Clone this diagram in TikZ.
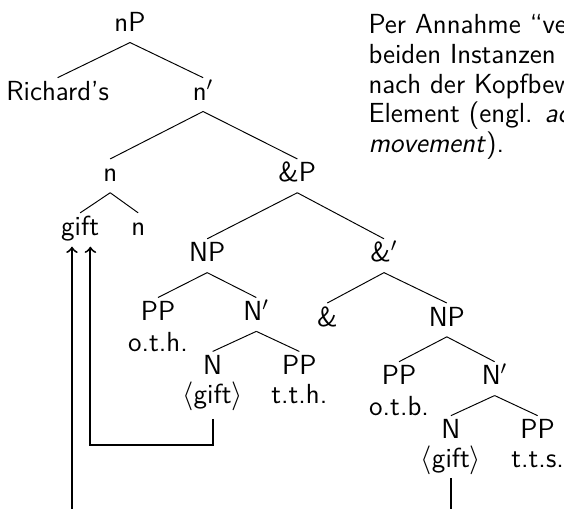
\documentclass[tikz,border=0pt]{standalone}
\usepackage{tikz}
\usetikzlibrary{positioning, arrows}
\renewcommand{\familydefault}{\sfdefault}
\tikzstyle{tn} = [inner xsep=3pt, inner ysep=1.4pt, text height=8pt, text depth=2.9pt]
\tikzstyle{note} = [anchor=north west, align=left, inner sep=0pt]
\tikzstyle{edge} = [thin]
\tikzstyle{arrow} = [thick,->]

\begin{document}
\begin{tikzpicture}[on grid, font=\fontsize{11.5}{12.4}\selectfont]
\useasboundingbox (-1.904,0.375) rectangle (6.356,-7.065);
\clip (-1.904,0.375) rectangle (6.356,-7.065);
% upper part
\node (np) [tn] {nP};
\node (rich) [tn, below left=1.01cm and 1.06cm of np] {Richard’s};
\node (nbar) [tn, below right=1.01cm and 1.07cm of np] {n$'$};
\node (n) [tn, below left=1.19cm and 1.36cm of nbar] {n};
\node (andp) [tn, below right=1.19cm and 1.38cm of nbar] {\&P};
\node (gift) [tn, below left=0.79cm and 0.44cm of n] {gift};
\node (nhead) [tn, below right=0.79cm and 0.41cm of n] {n};
% first conjunct
\node (np1) [tn, below left=1.17cm and 1.32cm of andp] {NP};
\node (pp1) [tn, below left=0.86cm and 0.72cm of np1] {PP};
\node (oth) [tn, below=0.45cm of pp1] {o.t.h.};
\node (nbar1) [tn, below right=0.86cm and 0.72cm of np1] {N$'$};
\node (n1) [tn, below left=0.79cm and 0.64cm of nbar1] {N};
\node (gift1) [tn, below=0.42cm of n1] {$\langle$gift$\rangle$};
\node (pp2) [tn, below right=0.79cm and 0.63cm of nbar1] {PP};
\node (tth) [tn, below=0.42cm of pp2] {t.t.h.};
% second conjunct
\node (andbar) [tn, below right=1.17cm and 1.27cm of andp] {\&$'$};
\node (and) [tn, below left=0.94cm and 0.83cm of andbar] {\&};
\node (np2) [tn, below right=0.94cm and 0.92cm of andbar] {NP};
\node (pp3) [tn, below left=0.86cm and 0.70cm of np2] {PP};
\node (otb) [tn, below=0.45cm of pp3] {o.t.b.};
\node (nbar2) [tn, below right=0.86cm and 0.70cm of np2] {N$'$};
\node (n2) [tn, below left=0.79cm and 0.64cm of nbar2] {N};
\node (gift2) [tn, below=0.42cm of n2] {$\langle$gift$\rangle$};
\node (pp4) [tn, below right=0.79cm and 0.63cm of nbar2] {PP};
\node (tts) [tn, below=0.42cm of pp4] {t.t.s.};
% explanation
\node (txt) [note] at (3.486,0.17) {Per Annahme “verschmelzen” die\\
beiden Instanzen von \emph{gift}\\
nach der Kopfbewegung zu einem\\
Element (engl. \emph{across-the-board}\\
\emph{movement}).};
% branches
\draw [edge] (np.south) -- (rich.north);
\draw [edge] (np.south) -- (nbar.north);
\draw [edge] (nbar.south) -- (n.north);
\draw [edge] (nbar.south) -- (andp.north);
\draw [edge] (n.south) -- (gift.north);
\draw [edge] (n.south) -- (nhead.north);
\draw [edge] (andp.south) -- (np1.north);
\draw [edge] (andp.south) -- (andbar.north);
\draw [edge] (np1.south) -- (pp1.north);
\draw [edge] (np1.south) -- (nbar1.north);
\draw [edge] (nbar1.south) -- (n1.north);
\draw [edge] (nbar1.south) -- (pp2.north);
\draw [edge] (andbar.south) -- (and.north);
\draw [edge] (andbar.south) -- (np2.north);
\draw [edge] (np2.south) -- (pp3.north);
\draw [edge] (np2.south) -- (nbar2.north);
\draw [edge] (nbar2.south) -- (n2.north);
\draw [edge] (nbar2.south) -- (pp4.north);
% movement
\draw [arrow] ([yshift=-0.07cm]gift1.south) -- ++(0,-0.38) -| ([xshift=0.15cm]gift.south);
\draw [arrow] (gift2.south) -- ++(0,-1) -| ([xshift=-0.12cm]gift.south);
\end{tikzpicture}
\end{document}
